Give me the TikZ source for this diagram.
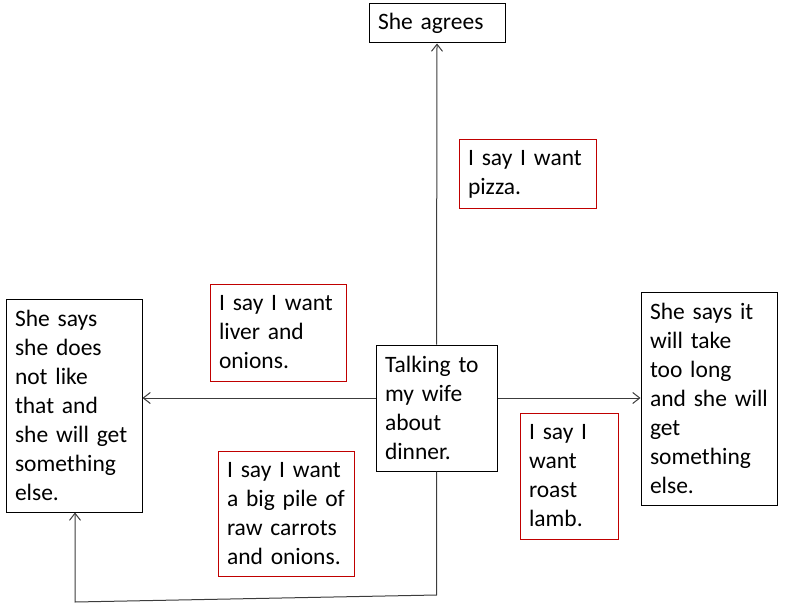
\documentclass[tikz,border=0pt]{standalone}
\usepackage{fontspec}
\setmainfont{Carlito}[WordSpace={0.7,0,0}]
\usetikzlibrary{arrows.meta}
\definecolor{boxred}{RGB}{192,0,0}
\definecolor{linegray}{RGB}{60,60,60}
\begin{document}
\begin{tikzpicture}[x=1pt,y=-1pt,
  box/.style={draw=black,line width=1pt,inner xsep=9pt,inner ysep=0pt,
    align=left,font=\fontsize{23.5}{29}\selectfont},
  redbox/.style={box,draw=boxred},
  conn/.style={draw=linegray,line width=1pt,-{Straight Barb[length=7pt,width=11pt]}}]
\useasboundingbox (0,0) rectangle (786,604);
\node[box,text width=118pt,minimum height=39pt] (agrees) at (437,23.5) {She agrees};
\node[redbox,text width=119pt,minimum height=68pt] (pizza) at (527.5,174) {I say I want\\pizza.};
\node[redbox,text width=118pt,minimum height=97pt] (liver) at (278,332.5) {I say I want\\liver and\\onions.};
\node[box,text width=118pt,minimum height=213pt] (left) at (74,405.5) {She says\\she does\\not like\\that and\\she will get\\something\\else.};
\node[box,text width=103pt,minimum height=126pt] (ctr) at (436.5,408) {Talking to\\my wife\\about\\dinner.};
\node[box,text width=118pt,minimum height=213pt] (right) at (709,398.5) {She says it\\will take\\too long\\and she will\\get\\something\\else.};
\node[redbox,text width=80pt,minimum height=126pt] (roast) at (569,476) {I say I\\want\\roast\\lamb.};
\node[redbox,text width=118pt,minimum height=125pt] (carrots) at (286,513.5) {I say I want\\a big pile of\\raw carrots\\and onions.};
\coordinate (lvl) at (0,398);
\coordinate (b1) at (437,595);
\coordinate (b2) at (75,602);
\draw[conn] (ctr.north) -- (agrees.south);
\draw[conn] (ctr.west |- lvl) -- (left.east |- lvl);
\draw[conn] (ctr.east |- lvl) -- (right.west |- lvl);
\draw[conn] (ctr.south) -- (ctr.south |- b1) -- (b2) -- (b2 |- left.south);
\end{tikzpicture}
\end{document}
